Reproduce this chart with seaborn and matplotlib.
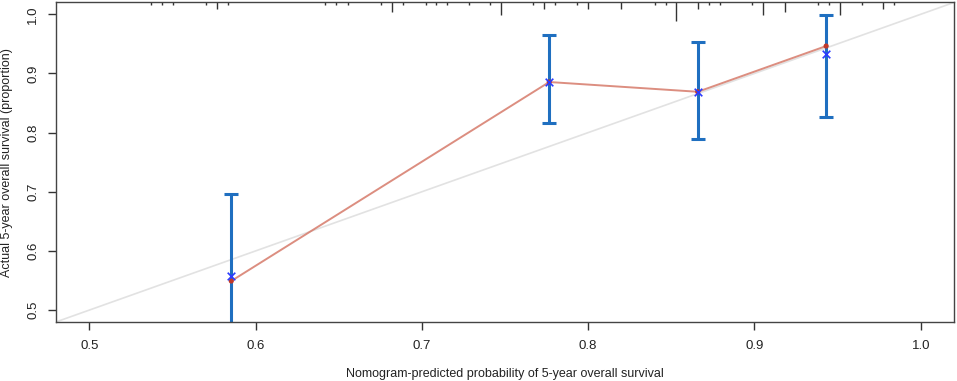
import numpy as np
import pandas as pd
import seaborn as sns
import matplotlib.pyplot as plt
import matplotlib.transforms as mtransforms

# calibration groups
pred = [0.5854, 0.7766, 0.8659, 0.9431]
obs_apparent = [0.5492, 0.8855, 0.8690, 0.9463]
obs_corrected = [0.5576, 0.8860, 0.8680, 0.9334]
ci_low = [0.41, 0.8159, 0.7886, 0.8270]
ci_high = [0.6958, 0.9648, 0.9530, 0.9983]

# rug of predicted probabilities (top axis)
rug_x = [0.5371, 0.5437, 0.5503, 0.5701, 0.5766, 0.5832, 0.6419, 0.6485, 0.6557,
         0.6754, 0.6820, 0.6886, 0.7024, 0.7084, 0.7150, 0.7281, 0.7407, 0.7473,
         0.7671, 0.7737, 0.7802, 0.7934, 0.8000, 0.8198, 0.8401, 0.8467, 0.8527,
         0.8659, 0.8725, 0.8790, 0.8988, 0.9054, 0.9186, 0.9383, 0.9449, 0.9515,
         0.9647, 0.9772, 0.9838]
rug_n = [1, 1, 1, 1, 2, 1, 1, 1, 1,
         1, 3, 1, 1, 1, 1, 1, 1, 4,
         1, 2, 1, 1, 2, 2, 1, 1, 6,
         2, 1, 1, 1, 4, 3, 1, 1, 4,
         1, 2, 1]

df = pd.DataFrame({'pred': pred, 'obs': obs_apparent, 'corr': obs_corrected})

sns.set_theme(style="white")
plt.rcParams['font.family'] = ['Liberation Sans', 'DejaVu Sans']

fig = plt.figure(figsize=(9.57, 3.81), dpi=100)
ax = fig.add_axes([0.0585, 0.155, 0.9384, 0.8386])

lims = (0.48, 1.02)
# ideal line
ax.plot(lims, lims, color='#e2e2e2', lw=1.2, zorder=1)

# error bars
cap = 0.0042
ax.vlines(pred, ci_low, ci_high, color='#1f6fc0', lw=2.2, zorder=2)
ax.hlines(ci_low, np.array(pred) - cap, np.array(pred) + cap, color='#1f6fc0', lw=2.2, zorder=2)
ax.hlines(ci_high, np.array(pred) - cap, np.array(pred) + cap, color='#1f6fc0', lw=2.2, zorder=2)

# apparent calibration line
sns.lineplot(data=df, x='pred', y='obs', color='#d67a6a', lw=1.4, alpha=0.85, ax=ax, zorder=3)
sns.scatterplot(data=df, x='pred', y='obs', color='#c0392b', s=14, edgecolor='none', ax=ax, zorder=4)
sns.scatterplot(data=df, x='pred', y='corr', marker='x', color='#2b3bff', s=30, linewidth=1.2, ax=ax, zorder=5)

# rug at top
trans = mtransforms.blended_transform_factory(ax.transData, ax.transAxes)
ax.vlines(rug_x, 1.0, 1.0 - 0.0095 * np.array(rug_n), color='#333333', lw=1.0, transform=trans, clip_on=False)

ax.set_xlim(lims)
ax.set_ylim(lims)
ax.set_xticks([0.5, 0.6, 0.7, 0.8, 0.9, 1.0])
ax.set_yticks([0.5, 0.6, 0.7, 0.8, 0.9, 1.0])
ax.set_xticklabels(['0.5', '0.6', '0.7', '0.8', '0.9', '1.0'])
ax.set_yticklabels(['0.5', '0.6', '0.7', '0.8', '0.9', '1.0'], rotation=90, va='center')
ax.tick_params(axis='both', direction='out', length=6, width=1, color='#333333',
               labelsize=9.5, labelcolor='#222222', pad=6)
ax.tick_params(axis='x', bottom=True, pad=7)
ax.tick_params(axis='y', left=True)
for s in ax.spines.values():
    s.set_color('#444444')
    s.set_linewidth(1.0)

ax.set_xlabel('Nomogram-predicted probability of 5-year overall survival', fontsize=9, color='#222222', labelpad=15)
ax.set_ylabel('Actual 5-year overall survival (proportion)', fontsize=9, color='#222222', labelpad=10)
ax.xaxis.set_label_coords(0.5, -0.145)

plt.savefig('out.png', dpi=100)
